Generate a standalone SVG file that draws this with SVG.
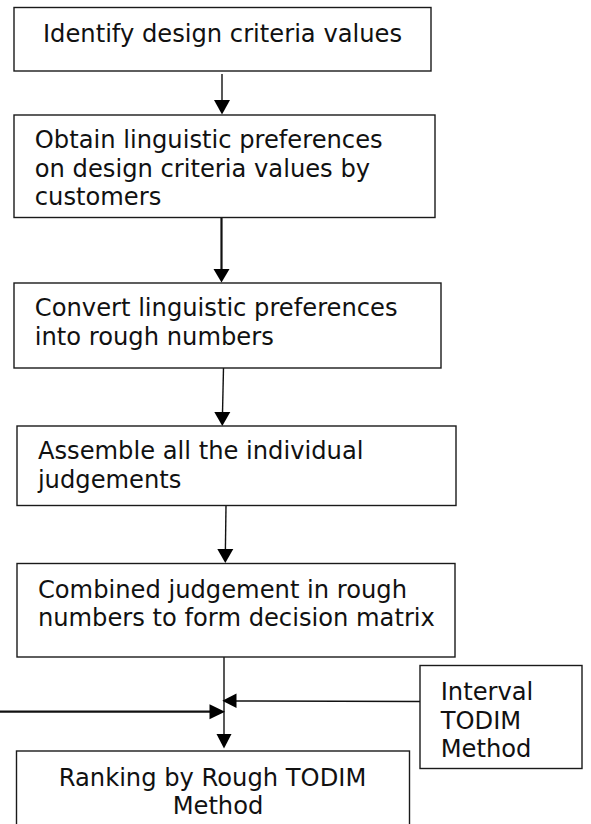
<svg xmlns="http://www.w3.org/2000/svg" width="591" height="824" viewBox="0 0 591 824">
<style>
.box{fill:#fff;stroke:#1a1a1a;stroke-width:1.4}
.t{font-family:"DejaVu Sans","Verdana",sans-serif;font-size:24.2px;fill:#111}
.c{fill:none;stroke:#111;stroke-width:1.4}
.c2{fill:none;stroke:#111;stroke-width:2.2}
.h{fill:#000;stroke:none}
</style>
<rect width="591" height="824" fill="#fff"/>
<g id="connectors">
<line class="c" x1="222" y1="74" x2="222" y2="101"/>
<polygon class="h" points="214,100 230,100 222,114.5"/>
<line class="c2" x1="221.5" y1="217.5" x2="221.5" y2="270"/>
<polygon class="h" points="213.5,269 229.5,269 221.5,282.5"/>
<line class="c" x1="223.5" y1="368" x2="222.5" y2="413"/>
<polygon class="h" points="214.3,412 230.3,412 222.3,426"/>
<line class="c" x1="226" y1="505.5" x2="225.4" y2="550"/>
<polygon class="h" points="217.3,549 233.3,549 225.3,563"/>
<line class="c" x1="224" y1="657" x2="224" y2="735"/>
<polygon class="h" points="216.5,734 231.5,734 224,748.5"/>
<line class="c" x1="420" y1="701.5" x2="236" y2="701"/>
<polygon class="h" points="236.5,693.5 236.5,708 222.3,700.7"/>
<line class="c2" x1="0" y1="711.7" x2="210" y2="711.7"/>
<polygon class="h" points="209.5,704.3 209.5,719.3 225,711.7"/>
</g>
<g id="n1">
<rect class="box" x="14" y="7.5" width="417" height="63.5"/>
<text class="t" x="222.5" y="41.7" text-anchor="middle">Identify design criteria values</text>
</g>
<g id="n2">
<rect class="box" x="14" y="115" width="421" height="102.5"/>
<text class="t" x="34.8" y="148.3">Obtain linguistic preferences</text>
<text class="t" x="34.8" y="176.7">on design criteria values by</text>
<text class="t" x="34.8" y="205">customers</text>
</g>
<g id="n3">
<rect class="box" x="14" y="283" width="427" height="85"/>
<text class="t" x="34.8" y="316">Convert linguistic preferences</text>
<text class="t" x="34.8" y="345">into rough numbers</text>
</g>
<g id="n4">
<rect class="box" x="17" y="426" width="439" height="79.5"/>
<text class="t" x="37.9" y="459.3">Assemble all the individual</text>
<text class="t" x="37.9" y="488.3">judgements</text>
</g>
<g id="n5">
<rect class="box" x="17" y="563.5" width="438" height="93.5"/>
<text class="t" x="37.9" y="598.3">Combined judgement in rough</text>
<text class="t" x="37.9" y="626">numbers to form decision matrix</text>
</g>
<g id="n6">
<rect class="box" x="16.5" y="751" width="393" height="80"/>
<text class="t" x="212.5" y="785.7" text-anchor="middle">Ranking by Rough TODIM</text>
<text class="t" x="218" y="814" text-anchor="middle">Method</text>
</g>
<g id="n7">
<rect class="box" x="420" y="665.5" width="162" height="103"/>
<text class="t" x="440.7" y="700">Interval</text>
<text class="t" x="440.7" y="729">TODIM</text>
<text class="t" x="440.7" y="757.3">Method</text>
</g>
</svg>
